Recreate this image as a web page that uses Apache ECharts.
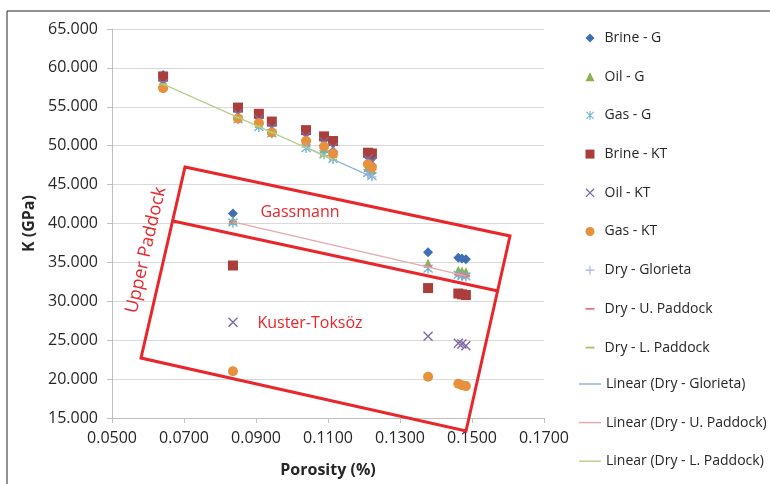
<!DOCTYPE html>
<html><head><meta charset="utf-8">
<script src="https://cdn.jsdelivr.net/npm/echarts@6/dist/echarts.min.js"></script>
<style>html,body{margin:0;padding:0;background:#fff}#c{width:770px;height:484px}</style>
</head><body><div id="c"></div>
<script>
// Porosity (fraction) of the measured samples
const porosity = [0.0642, 0.0850, 0.0908, 0.0944, 0.1039, 0.1089, 0.1114, 0.1211, 0.1222, 0.0836, 0.1378, 0.1462, 0.1472, 0.1483];
const brineG  = [59.1, 54.6, 53.8, 52.8, 51.6, 50.8, 50.3, 48.6, 48.4, 41.3, 36.3, 35.6, 35.5, 35.4];
const oilG    = [58.2, 53.9, 52.9, 52.0, 50.4, 49.6, 49.0, 47.2, 46.9, 40.4, 34.9, 34.0, 33.9, 33.8];
const gasG    = [57.9, 53.4, 52.4, 51.6, 49.7, 48.9, 48.3, 46.5, 46.1, 40.1, 34.2, 33.4, 33.3, 33.2];
const brineKT = [58.9, 54.9, 54.1, 53.1, 52.0, 51.2, 50.6, 49.1, 49.0, 34.6, 31.7, 31.0, 30.9, 30.8];
const oilKT   = [58.0, 54.1, 53.4, 52.3, 51.2, 50.5, 49.8, 48.3, 48.0, 27.3, 25.5, 24.6, 24.5, 24.3];
const gasKT   = [57.4, 53.5, 52.9, 51.7, 50.6, 49.9, 49.0, 47.6, 47.2, 21.0, 20.3, 19.4, 19.2, 19.1];
// Dry-frame moduli per formation
const gloriPor = [0.1039, 0.1211, 0.1222];
const gloriK   = [49.8, 46.2, 46.0];
const uPadPor  = [0.0836, 0.1378, 0.1462, 0.1472, 0.1483];
const uPadK    = [40.2, 34.5, 33.4, 33.5, 33.2];
const lPadPor  = [0.0642, 0.0850, 0.0908, 0.0944, 0.1089, 0.1114];
const lPadK    = [57.9, 53.6, 52.5, 51.7, 48.7, 48.2];
// Axis ticks
const xTicks = {min: 0.05, max: 0.17, step: 0.02};
const yTicks = {min: 15, max: 65, step: 5};

const zip = (xs, ys) => xs.map((x, i) => [x, ys[i]]);
function fit(xs, ys) {
  const n = xs.length;
  const mx = xs.reduce((a, b) => a + b, 0) / n;
  const my = ys.reduce((a, b) => a + b, 0) / n;
  let sxy = 0, sxx = 0;
  for (let i = 0; i < n; i++) { sxy += (xs[i] - mx) * (ys[i] - my); sxx += (xs[i] - mx) ** 2; }
  const b = sxy / sxx, a = my - b * mx;
  const x0 = Math.min(...xs), x1 = Math.max(...xs);
  return [[x0, a + b * x0], [x1, a + b * x1]];
}

const FONT = 'Open Sans';
const P_PLUS = 'path://M4.35,0H5.65V4.35H10V5.65H5.65V10H4.35V5.65H0V4.35H4.35Z';
const P_X = 'path://M0,1L1,0L10,9L9,10Z M0,9L9,0L10,1L1,10Z';
const P_AST = 'path://M4.4,0H5.6V10H4.4Z M0.6,1.6L1.4,0.6L9.4,8.4L8.6,9.4Z M0.6,8.4L8.6,0.6L9.4,1.6L1.4,9.4Z';
const P_DASH = 'path://M0,0H10V2H0Z';
const P_LINE = 'path://M0,0H40V2.6H0Z';

function sc(name, data, symbol, size, color) {
  return {name, type: 'scatter', data, symbol, symbolSize: size, itemStyle: {color, opacity: 1}, emphasis: {disabled: true}};
}

const scatterNames = ['Brine - G', 'Oil - G', 'Gas - G', 'Brine - KT', 'Oil - KT', 'Gas - KT', 'Dry - Glorieta', 'Dry - U. Paddock', 'Dry - L. Paddock'];
const lineNames = ['Linear (Dry - Glorieta)', 'Linear (Dry - U. Paddock)', 'Linear (Dry - L. Paddock)'];

const series = [
  sc('Brine - G', zip(porosity, brineG), 'diamond', 10, '#3F6EB3'),
  sc('Oil - G', zip(porosity, oilG), 'triangle', 9, '#8DB04F'),
  sc('Gas - G', zip(porosity, gasG), P_AST, 10, '#6CB4D9'),
  sc('Brine - KT', zip(porosity, brineKT), 'rect', 10, '#A93E3A'),
  sc('Oil - KT', zip(porosity, oilKT), P_X, 10, '#7E6BA8'),
  sc('Gas - KT', zip(porosity, gasKT), 'circle', 10, '#E8913C'),
  sc('Dry - Glorieta', zip(gloriPor, gloriK), P_PLUS, 9, '#A9B4DC'),
  sc('Dry - U. Paddock', zip(uPadPor, uPadK), P_DASH, [8, 2], '#E07A80'),
  sc('Dry - L. Paddock', zip(lPadPor, lPadK), P_DASH, [8, 2], '#A8C25E'),
  {name: 'Linear (Dry - Glorieta)', type: 'line', data: fit(gloriPor, gloriK), symbol: 'none', lineStyle: {color: '#8FB0D8', width: 1.3}, itemStyle: {color: '#8FB0D8'}, z: 3},
  {name: 'Linear (Dry - U. Paddock)', type: 'line', data: fit(uPadPor, uPadK), symbol: 'none', lineStyle: {color: '#E3A9AE', width: 1.3}, itemStyle: {color: '#E3A9AE'}, z: 3},
  {name: 'Linear (Dry - L. Paddock)', type: 'line', data: fit(lPadPor, lPadK), symbol: 'none', lineStyle: {color: '#B9CE8A', width: 1.3}, itemStyle: {color: '#B9CE8A'}, z: 3}
];

const RED = '#E8262B';
const chart = echarts.init(document.getElementById('c'), null, {renderer: 'canvas'});
chart.setOption({
  animation: false,
  backgroundColor: '#fff',
  grid: {left: 112, right: 226, top: 29, bottom: 66, containLabel: false},
  xAxis: {
    type: 'value', min: xTicks.min, max: xTicks.max, interval: xTicks.step,
    name: 'Porosity (%)', nameLocation: 'middle', nameGap: 44,
    nameTextStyle: {fontFamily: FONT, fontSize: 16, fontWeight: 'bold', color: '#262626'},
    axisLine: {show: true, lineStyle: {color: '#BFBFBF'}},
    axisTick: {show: true, length: 5, lineStyle: {color: '#BFBFBF'}},
    axisLabel: {fontFamily: FONT, fontSize: 16, color: '#262626', margin: 12, formatter: v => v.toFixed(4)},
    splitLine: {show: false}
  },
  yAxis: {
    type: 'value', min: yTicks.min, max: yTicks.max, interval: yTicks.step,
    name: 'K (GPa)', nameLocation: 'middle', nameGap: 70,
    nameTextStyle: {fontFamily: FONT, fontSize: 16, fontWeight: 'bold', color: '#262626'},
    axisLine: {show: true, lineStyle: {color: '#BFBFBF'}},
    axisTick: {show: true, length: 5, lineStyle: {color: '#BFBFBF'}},
    axisLabel: {fontFamily: FONT, fontSize: 16, color: '#262626', margin: 14, formatter: v => v.toFixed(3)},
    splitLine: {show: true, lineStyle: {color: '#D9D9D9', width: 1}}
  },
  legend: [
    {data: scatterNames, orient: 'vertical', left: 585.5, top: 31, padding: 0, itemWidth: 9, itemHeight: 9, itemGap: 24.7,
     textStyle: {fontFamily: FONT, fontSize: 14, color: '#262626', padding: [0, 0, 0, 5]}, selectedMode: false},
    {data: lineNames.map(n => ({name: n, icon: P_LINE})), orient: 'vertical', left: 579, top: 377, padding: 0,
     itemWidth: 22, itemHeight: 14, itemGap: 24.6, symbolKeepAspect: true,
     textStyle: {fontFamily: FONT, fontSize: 14, color: '#262626'}, selectedMode: false}
  ],
  series,
  graphic: [
    {type: 'rect', shape: {x: 7, y: 11, width: 800, height: 600}, style: {fill: 'none', stroke: '#222', lineWidth: 1}, silent: true, z: 0},
    {type: 'polygon', shape: {points: [[185, 167], [510, 236], [466, 431], [141, 358]]}, style: {fill: 'none', stroke: RED, lineWidth: 3}, silent: true, z: 100},
    {type: 'line', shape: {x1: 173, y1: 221, x2: 498, y2: 291}, style: {stroke: RED, lineWidth: 3}, silent: true, z: 100},
    {type: 'text', x: 300, y: 212, style: {text: 'Gassmann', fill: RED, font: '16px "Open Sans"', align: 'center', verticalAlign: 'middle'}, z: 100},
    {type: 'text', x: 310, y: 323, style: {text: 'Kuster-Toksöz', fill: RED, font: '16px "Open Sans"', align: 'center', verticalAlign: 'middle'}, z: 100},
    {type: 'text', x: 146, y: 250, rotation: 77 * Math.PI / 180, style: {text: 'Upper Paddock', fill: RED, font: '18px "Open Sans"', align: 'center', verticalAlign: 'middle'}, z: 100}
  ]
});
</script>
</body></html>
